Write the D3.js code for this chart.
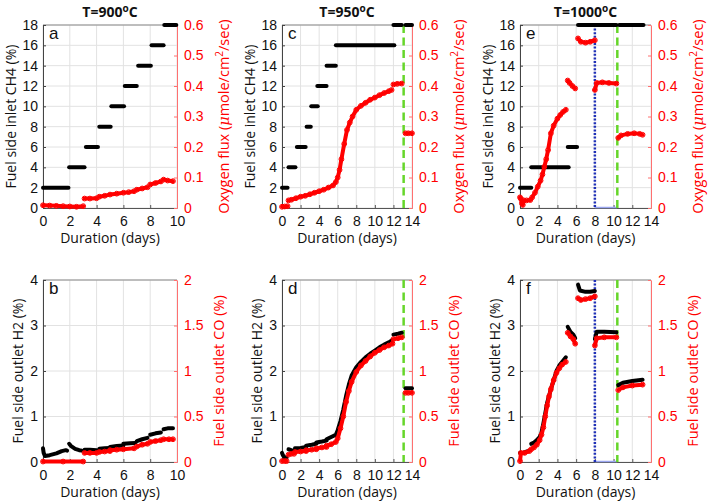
<!DOCTYPE html>
<html>
<head>
<meta charset="utf-8">
<script src="https://cdn.jsdelivr.net/npm/d3@7"></script>
<style>
  body { margin: 0; background: #fff; }
</style>
</head>
<body>
<div id="chart"></div>
<script>
// ---------------- data ----------------
var dayTicks10 = [0, 2, 4, 6, 8, 10];
var dayTicks14 = [0, 2, 4, 6, 8, 10, 12, 14];
var ch4Ticks = [0, 2, 4, 6, 8, 10, 12, 14, 16, 18];
var fluxTicks = [0, 0.1, 0.2, 0.3, 0.4, 0.5, 0.6];
var h2Ticks = [0, 1, 2, 3, 4];
var coTicks = [0, 0.5, 1, 1.5, 2];
var temps = ["900", "950", "1000"];
var letters = ["a", "c", "e", "b", "d", "f"];

// inlet CH4 steps: [start day, end day, CH4 %]
var ch4_900 = [[0, 1.9, 2], [1.95, 3.1, 4], [3.2, 4.1, 6], [4.2, 5.05, 8], [5.1, 6.05, 10],
  [6.1, 7.0, 12], [7.1, 8.05, 14], [8.1, 9.0, 16], [9.05, 9.95, 18]];
var ch4_950 = [[0, 0.6, 2], [0.7, 1.45, 4], [1.6, 2.55, 6], [2.65, 3.1, 8], [3.15, 3.85, 10],
  [3.8, 4.8, 12], [4.8, 5.8, 14], [5.8, 12.1, 16], [12.0, 12.9, 18], [13.3, 14.0, 18]];
var ch4_1000 = [[0, 1.2, 2], [1.2, 5.2, 4], [5.1, 6.1, 6], [6.2, 10.3, 18], [10.6, 13.2, 18]];

// oxygen flux (umole/cm2/sec), segments of [day, value]
var flux_900 = [
  [[0, 0.009], [0.5, 0.008], [1, 0.007], [1.5, 0.006], [2, 0.005], [2.5, 0.004], [3.0, 0.006]],
  [[3.1, 0.031], [3.5, 0.031], [4.0, 0.032]],
  [[4.2, 0.037], [4.6, 0.04], [5.0, 0.044], [5.5, 0.047], [6.0, 0.05], [6.4, 0.052], [6.8, 0.055]],
  [[7.0, 0.06], [7.4, 0.064], [7.8, 0.068]],
  [[8.0, 0.077], [8.4, 0.082], [8.8, 0.087]],
  [[9.0, 0.093], [9.3, 0.09], [9.7, 0.088]]
];
var flux_950 = [
  [[0, 0.004], [0.3, 0.005], [0.6, 0.006]],
  [[0.7, 0.025], [1.0, 0.027], [1.5, 0.032], [2.0, 0.037], [2.5, 0.04], [3.0, 0.045], [3.5, 0.05],
   [4.0, 0.055], [4.5, 0.06], [5.0, 0.067], [5.5, 0.074], [5.8, 0.085], [6.0, 0.1], [6.2, 0.125],
   [6.4, 0.16], [6.7, 0.21], [7.0, 0.256], [7.3, 0.28], [7.6, 0.3], [8.0, 0.322], [8.5, 0.335],
   [9.0, 0.345], [9.5, 0.355], [10.0, 0.362], [10.5, 0.37], [11.0, 0.377], [11.5, 0.383], [11.8, 0.387]],
  [[12.0, 0.405], [12.4, 0.407], [12.9, 0.408]],
  [[13.3, 0.245], [13.6, 0.245], [14.0, 0.245]]
];
var flux_1000 = [
  [[0, 0.035], [0.1, 0.03], [0.2, 0.015], [0.3, 0.01], [0.4, 0.025], [0.7, 0.025], [1.1, 0.026],
   [1.3, 0.035], [1.6, 0.05], [1.9, 0.07], [2.2, 0.09], [2.4, 0.11], [2.6, 0.135], [2.8, 0.16],
   [3.0, 0.19], [3.3, 0.245], [3.6, 0.27], [4.0, 0.293], [4.3, 0.305], [4.6, 0.315], [4.9, 0.322]],
  [[5.1, 0.418], [5.3, 0.41], [5.6, 0.4], [5.9, 0.392]],
  [[6.2, 0.556], [6.5, 0.545], [7.0, 0.542], [7.5, 0.545], [8.0, 0.55]],
  [[8.0, 0.387], [8.2, 0.41], [8.8, 0.412], [9.5, 0.41], [10.3, 0.408]],
  [[10.5, 0.23], [10.8, 0.238], [11.5, 0.243], [12.2, 0.245], [12.8, 0.243], [13.1, 0.24]]
];

// outlet H2 (%)
var h2_900 = [
  [[0, 0.3], [0.05, 0.2], [0.15, 0.13], [0.5, 0.15], [1.0, 0.19], [1.4, 0.24], [1.7, 0.26], [1.8, 0.25]],
  [[1.95, 0.4], [2.1, 0.35], [2.4, 0.29], [2.7, 0.26], [2.9, 0.25]],
  [[3.1, 0.27], [3.5, 0.27], [4.0, 0.26]],
  [[4.2, 0.29], [4.6, 0.3], [5.0, 0.31]],
  [[5.0, 0.33], [5.5, 0.35], [6.0, 0.36]],
  [[6.0, 0.4], [6.5, 0.41], [6.9, 0.42]],
  [[7.0, 0.46], [7.4, 0.5], [7.8, 0.53]],
  [[8.0, 0.6], [8.4, 0.63], [8.8, 0.65]],
  [[9.0, 0.72], [9.3, 0.74], [9.7, 0.74]]
];
var h2_950 = [
  [[0, 0.2], [0.1, 0.15], [0.3, 0.1], [0.5, 0.1]],
  [[0.7, 0.28], [1.0, 0.26], [1.3, 0.25]],
  [[1.4, 0.3], [2.0, 0.31], [2.6, 0.33]],
  [[2.6, 0.36], [3.2, 0.38], [3.7, 0.4]],
  [[3.7, 0.43], [4.3, 0.45], [4.8, 0.47]],
  [[4.8, 0.5], [5.3, 0.55], [5.8, 0.6], [6.0, 0.7], [6.3, 0.9], [6.6, 1.15], [6.9, 1.45], [7.2, 1.7],
   [7.5, 1.9], [8.0, 2.08], [8.5, 2.2], [9.0, 2.3], [9.5, 2.38], [10.0, 2.45], [10.5, 2.52],
   [11.0, 2.58], [11.5, 2.63], [11.9, 2.68]],
  [[12.0, 2.8], [12.5, 2.82], [12.9, 2.84]],
  [[13.3, 1.62], [13.6, 1.62], [14.0, 1.62]]
];
var h2_1000 = [
  [[0, 0.2], [0.3, 0.2], [0.6, 0.22], [1.0, 0.25]],
  [[1.2, 0.4], [1.5, 0.43], [1.8, 0.48], [2.1, 0.55], [2.3, 0.65], [2.5, 0.85], [2.7, 1.07],
   [2.9, 1.3], [3.1, 1.45], [3.3, 1.6], [3.6, 1.8], [3.9, 2.0], [4.2, 2.12], [4.5, 2.2], [4.9, 2.3]],
  [[5.1, 2.97], [5.4, 2.86], [5.7, 2.8], [5.9, 2.72]],
  [[6.2, 3.9], [6.4, 3.77], [7.0, 3.74], [7.5, 3.74], [8.0, 3.76]],
  [[8.0, 2.7], [8.2, 2.86], [9.0, 2.86], [10.3, 2.85]],
  [[10.5, 1.69], [11.0, 1.74], [12.0, 1.78], [13.1, 1.81]]
];

// outlet CO (%)
var co_900 = [
  [[0, 0.005], [1.5, 0.005], [3.0, 0.005]],
  [[3.1, 0.1], [3.5, 0.1], [4.0, 0.1]],
  [[4.2, 0.11], [4.6, 0.115], [5.0, 0.12]],
  [[5.0, 0.13], [5.5, 0.135], [6.0, 0.14], [6.8, 0.15]],
  [[7.0, 0.17], [7.4, 0.19], [7.8, 0.2]],
  [[8.0, 0.22], [8.4, 0.23], [8.8, 0.24]],
  [[9.0, 0.25], [9.4, 0.25], [9.7, 0.25]]
];
var co_950 = [
  [[0, 0.01], [0.3, 0.01], [0.5, 0.01]],
  [[0.7, 0.08], [1.0, 0.09], [1.3, 0.09]],
  [[1.4, 0.11], [2.0, 0.115], [2.6, 0.12]],
  [[2.6, 0.13], [3.2, 0.135], [3.7, 0.14]],
  [[3.7, 0.15], [4.3, 0.16], [4.8, 0.165]],
  [[4.8, 0.18], [5.3, 0.195], [5.8, 0.22], [6.0, 0.26], [6.3, 0.37], [6.6, 0.5], [6.9, 0.66],
   [7.2, 0.78], [7.5, 0.88], [8.0, 0.99], [8.5, 1.06], [9.0, 1.11], [9.5, 1.16], [10.0, 1.2],
   [10.5, 1.23], [11.0, 1.26], [11.5, 1.28], [11.9, 1.3]],
  [[12.0, 1.35], [12.5, 1.36], [12.9, 1.37]],
  [[13.3, 0.76], [13.6, 0.76], [14.0, 0.76]]
];
var co_1000 = [
  [[0, 0.01], [0.1, 0.1], [0.5, 0.1], [1.0, 0.12]],
  [[1.2, 0.14], [1.5, 0.16], [1.8, 0.19], [2.1, 0.24], [2.3, 0.3], [2.5, 0.38], [2.7, 0.5],
   [2.9, 0.62], [3.1, 0.72], [3.3, 0.8], [3.6, 0.9], [3.9, 0.98], [4.2, 1.03], [4.5, 1.07], [4.9, 1.1]],
  [[5.1, 1.42], [5.4, 1.38], [5.7, 1.35], [5.9, 1.3]],
  [[6.2, 1.8], [6.5, 1.78], [7.0, 1.79], [7.5, 1.8], [8.0, 1.82]],
  [[8.0, 1.28], [8.2, 1.36], [9.0, 1.37], [10.3, 1.37]],
  [[10.5, 0.79], [11.0, 0.82], [12.0, 0.84], [13.1, 0.85]]
];

// vertical marker lines (days)
var greenLines = [null, 13.1, 10.4];
var blueLines = [null, null, 8.0];

// ---------------- layout ----------------
var width = 709, height = 504;
var cols = [{ x0: 43, x1: 177 }, { x0: 282, x1: 412 }, { x0: 520, x1: 651 }];
var rows = [{ y0: 25, y1: 208 }, { y0: 280, y1: 462 }];
var red = "#ff0000";
var tickFont = "'Liberation Sans', Arial, sans-serif";
var labelFont = "'Open Sans', 'DejaVu Sans', sans-serif";

var svg = d3.select("#chart").append("svg")
  .attr("width", width)
  .attr("height", height)
  .style("font-family", tickFont);

function steps(arr) {
  return arr.map(function (s) { return [[s[0], s[2]], [s[1], s[2]]]; });
}

function drawPanel(p) {
  var x = d3.scaleLinear().domain([0, d3.max(p.xTicks)]).range([p.x0, p.x1]);
  var yL = d3.scaleLinear().domain([0, d3.max(p.leftTicks)]).range([p.y1, p.y0]);
  var yR = d3.scaleLinear().domain([0, d3.max(p.rightTicks)]).range([p.y1, p.y0]);
  var g = svg.append("g");
  var fmt = function (d) { return String(d); };

  // grid
  g.append("g").selectAll("line").data(p.xTicks).join("line")
    .attr("x1", function (d) { return x(d); }).attr("x2", function (d) { return x(d); })
    .attr("y1", p.y0).attr("y2", p.y1)
    .attr("stroke", "#e2e2e2").attr("stroke-width", 1);
  g.append("g").selectAll("line").data(p.leftTicks).join("line")
    .attr("x1", p.x0).attr("x2", p.x1)
    .attr("y1", function (d) { return yL(d); }).attr("y2", function (d) { return yL(d); })
    .attr("stroke", "#e2e2e2").attr("stroke-width", 1);

  // top border
  g.append("line").attr("x1", p.x0).attr("x2", p.x1).attr("y1", p.y0).attr("y2", p.y0)
    .attr("stroke", "#8a8a8a");

  // axes
  var xa = g.append("g").attr("transform", "translate(0," + p.y1 + ")")
    .call(d3.axisBottom(x).tickValues(p.xTicks).tickFormat(fmt)
      .tickSizeInner(-3).tickSizeOuter(0).tickPadding(8));
  var la = g.append("g").attr("transform", "translate(" + p.x0 + ",0)")
    .call(d3.axisLeft(yL).tickValues(p.leftTicks).tickFormat(fmt)
      .tickSizeInner(-3).tickSizeOuter(0).tickPadding(5));
  var ra = g.append("g").attr("transform", "translate(" + p.x1 + ",0)")
    .call(d3.axisRight(yR).tickValues(p.rightTicks).tickFormat(fmt)
      .tickSizeInner(-3).tickSizeOuter(0).tickPadding(7));
  [xa, la, ra].forEach(function (a) {
    a.selectAll("text").style("font-size", "14px").style("font-family", tickFont);
  });
  xa.select(".domain").attr("stroke", "#555");
  xa.selectAll(".tick line").attr("stroke", "#555");
  xa.selectAll("text").attr("fill", "#111");
  la.select(".domain").attr("stroke", "#444");
  la.selectAll(".tick line").attr("stroke", "#444");
  la.selectAll("text").attr("fill", "#111");
  ra.select(".domain").attr("stroke", "#ff7070");
  ra.selectAll(".tick line").attr("stroke", "#ff7070");
  ra.selectAll("text").attr("fill", red);

  // marker lines
  if (p.blue != null) {
    g.append("line").attr("x1", x(p.blue)).attr("x2", p.green != null ? x(p.green) : x(p.blue))
      .attr("y1", p.y1 - 0.5).attr("y2", p.y1 - 0.5)
      .attr("stroke", "#9aa6f0").attr("stroke-width", 1.5);
    g.append("line").attr("x1", x(p.blue)).attr("x2", x(p.blue))
      .attr("y1", p.y0).attr("y2", p.y1)
      .attr("stroke", "#1f30b8").attr("stroke-width", 2.5).attr("stroke-dasharray", "2,1.6");
  }
  if (p.green != null) {
    g.append("line").attr("x1", x(p.green)).attr("x2", x(p.green))
      .attr("y1", p.y0).attr("y2", p.y1)
      .attr("stroke", "#66d62a").attr("stroke-width", 2.5).attr("stroke-dasharray", "8,4.5");
  }

  // data
  var lineL = d3.line().x(function (d) { return x(d[0]); }).y(function (d) { return yL(d[1]); });
  var lineR = d3.line().x(function (d) { return x(d[0]); }).y(function (d) { return yR(d[1]); });

  g.append("g").selectAll("path").data(p.black).join("path")
    .attr("d", lineL)
    .attr("fill", "none").attr("stroke", "#000").attr("stroke-width", 4)
    .attr("stroke-linecap", "round").attr("stroke-linejoin", "round");

  g.append("g").selectAll("path").data(p.red).join("path")
    .attr("d", lineR)
    .attr("fill", "none").attr("stroke", red).attr("stroke-width", 4)
    .attr("stroke-linecap", "round").attr("stroke-linejoin", "round");
  g.append("g").selectAll("circle").data(p.red.flat()).join("circle")
    .attr("cx", function (d) { return x(d[0]); })
    .attr("cy", function (d) { return yR(d[1]); })
    .attr("r", 2.4).attr("fill", "none").attr("stroke", red).attr("stroke-width", 1);

  // panel letter
  g.append("text").attr("x", p.x0 + 6).attr("y", p.y0 + 14)
    .style("font-size", "17px").style("font-family", tickFont).attr("fill", "#111")
    .text(p.letter);

  // axis labels
  var cy = (p.y0 + p.y1) / 2;
  var cx = (p.x0 + p.x1) / 2;
  g.append("text")
    .attr("transform", "translate(" + (p.x0 - p.leftOff) + "," + cy + ") rotate(-90)")
    .attr("dy", "0.35em").attr("text-anchor", "middle")
    .style("font-size", "14px").style("font-family", labelFont).attr("fill", "#111")
    .text(p.leftLabel);

  var rl = g.append("text")
    .attr("transform", "translate(" + (p.x1 + p.rightOff) + "," + cy + ") rotate(-90)")
    .attr("dy", "0.35em").attr("text-anchor", "middle")
    .style("font-size", "14.5px").style("font-family", labelFont).attr("fill", red);
  p.rightLabel(rl);

  g.append("text").attr("x", cx).attr("y", p.y1 + 35)
    .attr("text-anchor", "middle")
    .style("font-size", "14px").style("font-family", labelFont).attr("fill", "#111")
    .text("Duration (days)");

  if (p.title) {
    var t = g.append("text").attr("x", cx).attr("y", 17).attr("text-anchor", "middle")
      .style("font-size", "14px").style("font-family", labelFont).style("font-weight", "bold")
      .attr("fill", "#111");
    t.append("tspan").text("T=" + p.title);
    t.append("tspan").attr("dy", "-5").style("font-size", "10px").text("o");
    t.append("tspan").attr("dy", "5").text("C");
  }
}

function fluxLabel(t) {
  t.append("tspan").text("Oxygen flux (");
  t.append("tspan").style("font-style", "italic").style("font-family", "'DejaVu Serif', serif").text("\u03bc");
  t.append("tspan").text("mole/cm");
  t.append("tspan").attr("dy", "-6").style("font-size", "10px").text("2");
  t.append("tspan").attr("dy", "6").text("/sec)");
}
function coLabel(t) {
  t.text("Fuel side outlet CO (%)");
}

var topBlack = [ch4_900, ch4_950, ch4_1000];
var topRed = [flux_900, flux_950, flux_1000];
var botBlack = [h2_900, h2_950, h2_1000];
var botRed = [co_900, co_950, co_1000];

cols.forEach(function (c, i) {
  var xt = i === 0 ? dayTicks10 : dayTicks14;
  drawPanel({
    x0: c.x0, x1: c.x1, y0: rows[0].y0, y1: rows[0].y1,
    xTicks: xt, leftTicks: ch4Ticks, rightTicks: fluxTicks,
    black: steps(topBlack[i]), red: topRed[i],
    green: greenLines[i], blue: blueLines[i],
    letter: letters[i], title: temps[i],
    leftLabel: "Fuel side inlet CH4 (%)", leftOff: 32,
    rightLabel: fluxLabel, rightOff: 47
  });
  drawPanel({
    x0: c.x0, x1: c.x1, y0: rows[1].y0, y1: rows[1].y1,
    xTicks: xt, leftTicks: h2Ticks, rightTicks: coTicks,
    black: botBlack[i], red: botRed[i],
    green: greenLines[i], blue: blueLines[i],
    letter: letters[i + 3], title: null,
    leftLabel: "Fuel side outlet H2 (%)", leftOff: 25,
    rightLabel: coLabel, rightOff: 42
  });
});
</script>
</body>
</html>
